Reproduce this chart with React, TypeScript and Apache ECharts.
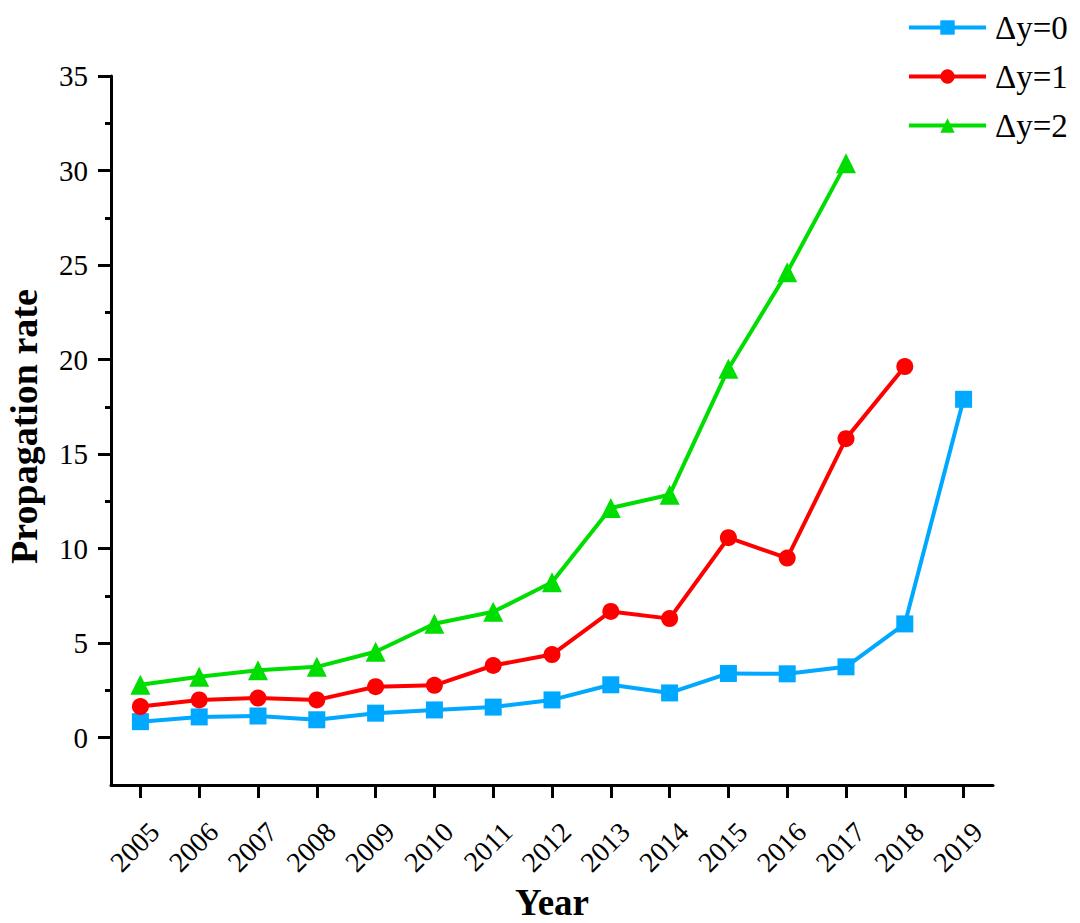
import React, { useEffect, useRef } from "react";
import * as echarts from "echarts";

const years = ["2005","2006","2007","2008","2009","2010","2011","2012","2013","2014","2015","2016","2017","2018","2019"];
const dy0 = [0.85, 1.1, 1.15, 0.95, 1.3, 1.47, 1.62, 2.0, 2.8, 2.37, 3.4, 3.38, 3.75, 6.02, 17.9];
const dy1 = [1.65, 2.0, 2.1, 2.0, 2.7, 2.77, 3.82, 4.4, 6.68, 6.3, 10.58, 9.5, 15.82, 19.63, null];
const dy2 = [2.8, 3.22, 3.57, 3.75, 4.55, 6.03, 6.66, 8.22, 12.15, 12.85, 19.52, 24.62, 30.38, null, null];
const majorTicks = [0, 5, 10, 15, 20, 25, 30, 35];
const minorTicks = [2.5, 7.5, 12.5, 17.5, 22.5, 27.5, 32.5];

const FONT = "'Liberation Serif', serif";

export default function App() {
  const ref = useRef<HTMLDivElement>(null);
  useEffect(() => {
    const chart = echarts.init(ref.current!, null, { renderer: "svg" });
    const axisLine = { show: true, onZero: false, lineStyle: { color: "#000", width: 3 } };
    chart.setOption({
      animation: false,
      backgroundColor: "#fff",
      textStyle: { fontFamily: FONT, color: "#000" },
      grid: { left: 111, right: 87, top: 76, bottom: 138, containLabel: false, outerBoundsMode: "none" },
      legend: {
        orient: "vertical",
        left: 902,
        top: 6,
        itemWidth: 77,
        itemHeight: 18,
        itemGap: 16,
        lineStyle: { width: 4 },
        textStyle: { fontFamily: FONT, fontSize: 33, fontWeight: "normal", color: "#000", padding: [0, 0, 0, 4] },
        data: ["Δy=0", "Δy=1", "Δy=2"],
      },
      xAxis: {
        type: "category",
        data: years,
        boundaryGap: true,
        axisLine,
        axisTick: { show: true, alignWithLabel: true, length: 13, lineStyle: { color: "#000", width: 3 } },
        axisLabel: {
          rotate: 45,
          fontFamily: FONT,
          fontSize: 28,
          fontWeight: "normal",
          color: "#000",
          margin: 28,
          interval: 0,
          verticalAlign: "top",
          padding: [6, 0, 0, 0],
        },
        name: "Year",
        nameLocation: "middle",
        nameGap: 96,
        nameTextStyle: { fontFamily: FONT, fontSize: 37, fontWeight: "bold", color: "#000" },
        splitLine: { show: false },
      },
      yAxis: [
        {
          type: "value",
          min: -2.5,
          max: 35,
          axisLine,
          axisTick: { show: true, length: 13, customValues: majorTicks, lineStyle: { color: "#000", width: 3 } },
          axisLabel: { customValues: majorTicks, fontFamily: FONT, fontSize: 29, fontWeight: "normal", color: "#000", margin: 23 },
          splitLine: { show: false },
          name: "Propagation rate",
          nameLocation: "middle",
          nameGap: 68,
          nameTextStyle: { fontFamily: FONT, fontSize: 38, fontWeight: "bold", color: "#000", padding: [0, 0, 0, 8] },
        },
        {
          type: "value",
          position: "left",
          min: -2.5,
          max: 35,
          axisLine: { show: false, onZero: false },
          axisTick: { show: true, length: 6, customValues: minorTicks, lineStyle: { color: "#000", width: 3 } },
          axisLabel: { show: false },
          splitLine: { show: false },
        },
      ],
      series: [
        {
          name: "Δy=0",
          type: "line",
          data: dy0,
          symbol: "rect",
          symbolSize: 17,
          itemStyle: { color: "#00A8FF" },
          lineStyle: { color: "#00A8FF", width: 4 },
        },
        {
          name: "Δy=1",
          type: "line",
          data: dy1,
          symbol: "circle",
          symbolSize: 17,
          itemStyle: { color: "#FF0000" },
          lineStyle: { color: "#FF0000", width: 4 },
        },
        {
          name: "Δy=2",
          type: "line",
          data: dy2,
          symbol: "triangle",
          symbolSize: 20,
          itemStyle: { color: "#00DD00" },
          lineStyle: { color: "#00DD00", width: 4 },
        },
      ],
    });
    return () => chart.dispose();
  }, []);
  return <div ref={ref} style={{ width: 1080, height: 923, margin: -8 }} />;
}
